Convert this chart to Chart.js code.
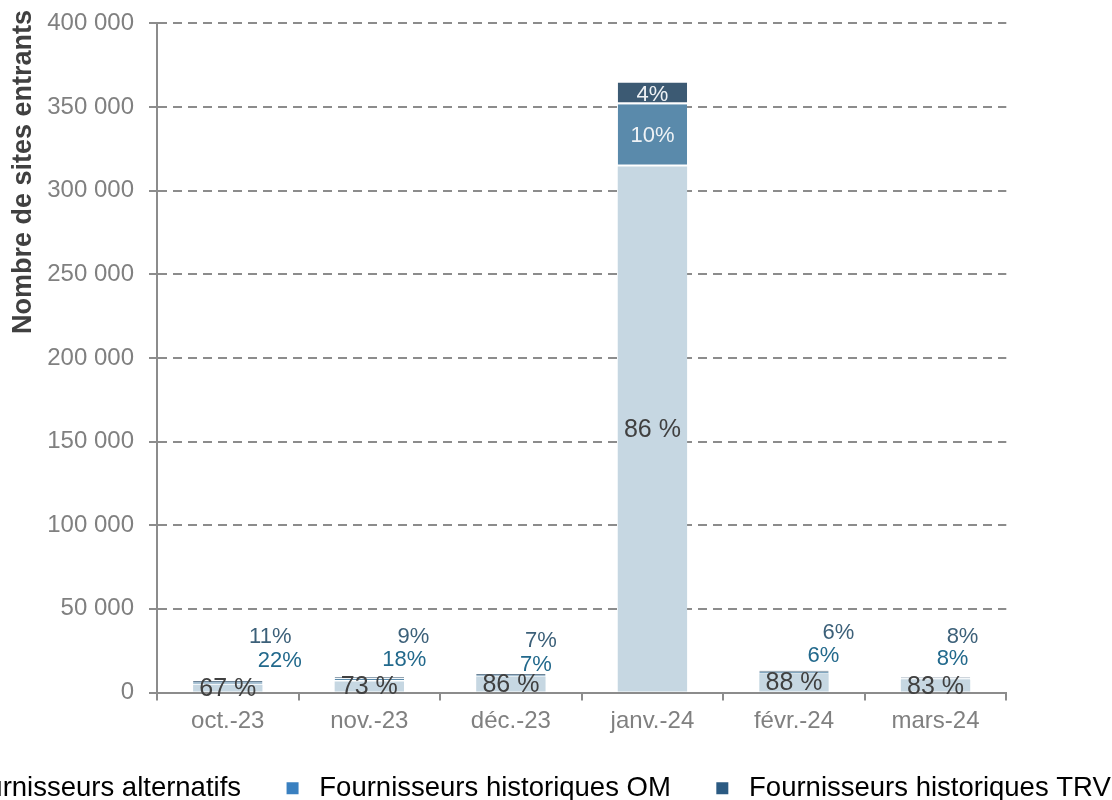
<!DOCTYPE html>
<html>
<head>
<meta charset="utf-8">
<script src="https://cdn.jsdelivr.net/npm/chart.js@4.4.1/dist/chart.umd.min.js"></script>
<style>
html, body { margin: 0; padding: 0; background: #ffffff; overflow: hidden; width: 1112px; height: 800px; }
#wrap { position: absolute; left: -127.5px; top: -6px; width: 1300px; height: 818px; }
canvas { display: block; }
</style>
</head>
<body>
<div id="wrap"><canvas id="c" width="1300" height="818"></canvas></div>
<script>
// ---- data ----
const categories = ['oct.-23', 'nov.-23', 'déc.-23', 'janv.-24', 'févr.-24', 'mars-24'];
const alternatifs = [4600, 6640, 9500, 314500, 11450, 7500];
const historiquesOM = [1500, 1640, 780, 37100, 780, 750];
const historiquesTRV = [760, 820, 780, 13000, 780, 750];
const seriesNames = ['Fournisseurs alternatifs', 'Fournisseurs historiques OM', 'Fournisseurs historiques TRV'];
const yTitle = 'Nombre de sites entrants';
const yMin = 0, yMax = 400000, yStep = 50000;

// ---- styles ----
const FONT = '"Liberation Sans", Arial, sans-serif';
const barColors = ['#c6d7e2', '#5a8aab', '#3c5a73'];
const legendColors = ['#a9c4dc', '#3a80c0', '#2b5a82'];
const gridColor = '#8c8c8c';
const tickColor = '#808080';

// label placement for small (outside) labels: offset from bar centre / stack top
const outsideOffsets = {
  1: [[52, -20.5], [35, -17], [25, -9], null, [29.5, -14.7], [17, -19]],
  2: [[42.5, -44.5], [44, -40], [30, -33], null, [44.5, -37.7], [27, -41]]
};
const outsideColors = { 1: '#22698c', 2: '#3c6079' };

const fmt = v => String(v).replace(/\B(?=(\d{3})+(?!\d))/g, ' ');

const pctLabels = {
  id: 'pctLabels',
  afterDatasetsDraw(chart) {
    const ctx = chart.ctx;
    const ds = chart.data.datasets;
    const totals = categories.map((_, i) => ds.reduce((s, d) => s + d.data[i], 0));
    const topMeta = chart.getDatasetMeta(ds.length - 1);
    ctx.save();
    ctx.textAlign = 'center';
    ctx.textBaseline = 'middle';
    ds.forEach((d, di) => {
      const meta = chart.getDatasetMeta(di);
      meta.data.forEach((bar, i) => {
        const pct = Math.round(d.data[i] / totals[i] * 100);
        const h = Math.abs(bar.base - bar.y);
        const cy = (bar.y + bar.base) / 2;
        if (di === 0) {
          ctx.font = '25px ' + FONT;
          ctx.fillStyle = '#404040';
          ctx.fillText(pct + ' %', bar.x, cy + 1);
        } else if (h >= 18) {
          ctx.font = '22px ' + FONT;
          ctx.fillStyle = '#eef2f5';
          ctx.fillText(pct + '%', bar.x, cy + 1);
        } else {
          const off = outsideOffsets[di][i] || [0, -20];
          const stackTop = topMeta.data[i].y;
          ctx.font = '22px ' + FONT;
          ctx.fillStyle = outsideColors[di];
          ctx.fillText(pct + '%', bar.x + off[0], stackTop + off[1]);
        }
      });
    });
    ctx.restore();
  }
};

const yAxisTitle = {
  id: 'yAxisTitle',
  afterDraw(chart) {
    const ctx = chart.ctx;
    ctx.save();
    ctx.translate(chart.chartArea.left - 133.5, chart.chartArea.top - 13.5);
    ctx.rotate(-Math.PI / 2);
    ctx.textAlign = 'right';
    ctx.textBaseline = 'middle';
    ctx.font = 'bold 27px ' + FONT;
    ctx.fillStyle = '#404040';
    ctx.fillText(yTitle, 0, 0);
    ctx.restore();
  }
};

const series = [alternatifs, historiquesOM, historiquesTRV];
const datasets = series.map((vals, k) => ({
  label: seriesNames[k],
  data: vals,
  backgroundColor: barColors[k],
  borderColor: '#ffffff',
  borderWidth: k === 0 ? 0 : { top: 0, left: 0, right: 0, bottom: 2 },
  borderSkipped: false,
  stack: 's',
  categoryPercentage: 1.0,
  barPercentage: 0.49
}));

new Chart(document.getElementById('c'), {
  type: 'bar',
  data: { labels: categories, datasets },
  options: {
    responsive: false,
    devicePixelRatio: 1,
    animation: false,
    layout: { padding: { top: 17, left: 4, right: 0, bottom: 0 } },
    plugins: {
      tooltip: { enabled: false },
      legend: {
        position: 'bottom',
        align: 'start',
        labels: {
          font: { family: FONT, size: 27.5 },
          color: '#111111',
          usePointStyle: true,
          pointStyle: 'rect',
          boxWidth: 26,
          boxHeight: 12,
          padding: 38.5,
          generateLabels(chart) {
            return chart.data.datasets.map((d, k) => ({
              text: d.label,
              fillStyle: legendColors[k],
              strokeStyle: legendColors[k],
              lineWidth: 0,
              pointStyle: 'rect',
              hidden: false,
              datasetIndex: k
            }));
          }
        }
      }
    },
    scales: {
      x: {
        stacked: true,
        offset: true,
        grid: { display: true, drawOnChartArea: false, drawTicks: true, tickLength: 8, color: gridColor, lineWidth: 2 },
        border: { display: true, color: gridColor, width: 2 },
        ticks: { color: tickColor, font: { family: FONT, size: 24 }, padding: 6, maxRotation: 0 },
        afterFit(s) { s.height = 43.5; }
      },
      y: {
        stacked: true,
        min: yMin, max: yMax,
        grid: { color: gridColor, lineWidth: 2, tickLength: 8, tickBorderDash: [], drawTicks: true },
        border: { display: true, color: gridColor, width: 2, dash: [9, 6] },
        ticks: { stepSize: yStep, color: tickColor, font: { family: FONT, size: 24 }, padding: 15, callback: v => fmt(v) },
        afterFit(s) { s.width = 280; }
      },
      yRight: {
        type: 'linear',
        position: 'right',
        display: true,
        grid: { display: false, drawTicks: false },
        border: { display: false },
        ticks: { display: false },
        afterFit(s) { s.width = 166.7; }
      }
    }
  },
  plugins: [pctLabels, yAxisTitle]
});
</script>
</body>
</html>
